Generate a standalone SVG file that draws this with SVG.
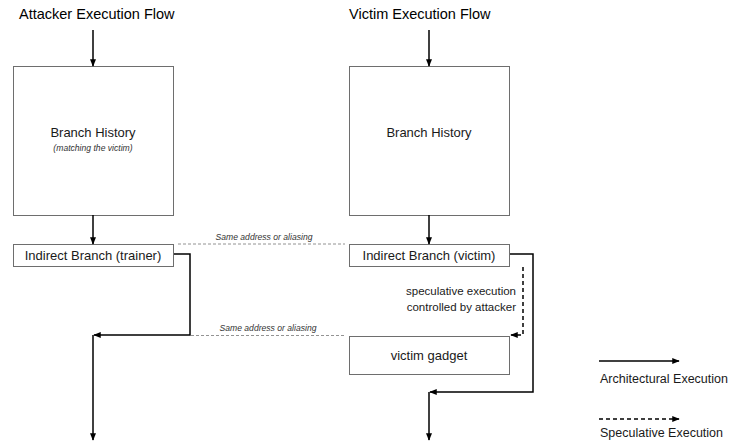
<svg xmlns="http://www.w3.org/2000/svg" width="732" height="442" viewBox="0 0 732 442">
  <style>
    .box { fill: #ffffff; stroke: #6e6e6e; stroke-width: 1; }
    .title { font-family: "Liberation Sans", Arial, sans-serif; font-size: 14.5px; fill: #000; }
    .label { font-family: "Liberation Sans", Arial, sans-serif; font-size: 13px; fill: #1a1a1a; }
    .side { font-family: "Liberation Sans", Arial, sans-serif; font-size: 11.5px; fill: #1a1a1a; }
    .legend-text { font-family: "Liberation Sans", Arial, sans-serif; font-size: 12.5px; fill: #1a1a1a; }
    .note { font-family: "Liberation Sans", Arial, sans-serif; font-size: 8.6px; font-style: italic; fill: #333; }
    .flow { fill: none; stroke: #000; stroke-width: 1.5; }
    .spec { fill: none; stroke: #000; stroke-width: 1.5; stroke-dasharray: 4 3; }
    .alias { fill: none; stroke: #777; stroke-width: 0.8; stroke-dasharray: 3 2; }
  </style>
  <defs>
    <marker id="head" viewBox="0 0 10 10" refX="9" refY="5" markerWidth="5" markerHeight="5" orient="auto" markerUnits="strokeWidth">
      <path d="M0,1 L10,5 L0,9 z" fill="#000"/>
    </marker>
  </defs>
  <rect width="732" height="442" fill="#ffffff"/>

  <text class="title" x="19" y="19">Attacker Execution Flow</text>
  <text class="title" x="349" y="19">Victim Execution Flow</text>

  <g id="attacker-history">
    <rect class="box" x="13.5" y="66.5" width="160" height="149"/>
    <text class="label" x="93" y="137" text-anchor="middle">Branch History</text>
    <text class="note" x="93" y="151" text-anchor="middle">(matching the victim)</text>
  </g>
  <g id="attacker-branch">
    <rect class="box" x="13.5" y="244.5" width="160" height="22"/>
    <text class="label" x="93" y="260" text-anchor="middle">Indirect Branch (trainer)</text>
  </g>
  <g id="victim-history">
    <rect class="box" x="349.5" y="66.5" width="160" height="149"/>
    <text class="label" x="429" y="137" text-anchor="middle">Branch History</text>
  </g>
  <g id="victim-branch">
    <rect class="box" x="349.5" y="244.5" width="160" height="22"/>
    <text class="label" x="429" y="260" text-anchor="middle">Indirect Branch (victim)</text>
  </g>
  <g id="victim-gadget">
    <rect class="box" x="349.5" y="336.5" width="160" height="38"/>
    <text class="label" x="429" y="360" text-anchor="middle">victim gadget</text>
  </g>

  <g id="connectors">
    <!-- attacker flow -->
    <line class="flow" x1="93" y1="30" x2="93" y2="66" marker-end="url(#head)"/>
    <line class="flow" x1="93" y1="215" x2="93" y2="244" marker-end="url(#head)"/>
    <polyline class="flow" points="174,254 190,254 190,335 94,335" marker-end="url(#head)"/>
    <line class="flow" x1="93" y1="335" x2="93" y2="440" marker-end="url(#head)"/>
    <!-- victim flow -->
    <line class="flow" x1="429" y1="30" x2="429" y2="66" marker-end="url(#head)"/>
    <line class="flow" x1="429" y1="215" x2="429" y2="244" marker-end="url(#head)"/>
    <polyline class="flow" points="510,254 533,254 533,392 430,392" marker-end="url(#head)"/>
    <line class="flow" x1="429" y1="392" x2="429" y2="440" marker-end="url(#head)"/>
    <polyline class="spec" points="523,267 523,335 511,335" marker-end="url(#head)"/>
    <text class="side" x="516" y="295" text-anchor="end">speculative execution</text>
    <text class="side" x="516" y="311" text-anchor="end">controlled by attacker</text>
    <!-- aliasing relations -->
    <line class="alias" x1="178" y1="244" x2="345" y2="244"/>
    <text class="note" x="264" y="240" text-anchor="middle">Same address or aliasing</text>
    <line class="alias" x1="191" y1="335.5" x2="345" y2="335.5"/>
    <text class="note" x="268" y="331" text-anchor="middle">Same address or aliasing</text>
  </g>

  <g id="legend">
    <line class="flow" x1="599" y1="361" x2="679" y2="361" marker-end="url(#head)"/>
    <text class="legend-text" x="600" y="383" textLength="128" lengthAdjust="spacingAndGlyphs">Architectural Execution</text>
    <line class="spec" x1="599" y1="419" x2="679" y2="419" marker-end="url(#head)"/>
    <text class="legend-text" x="600" y="437">Speculative Execution</text>
  </g>
</svg>
